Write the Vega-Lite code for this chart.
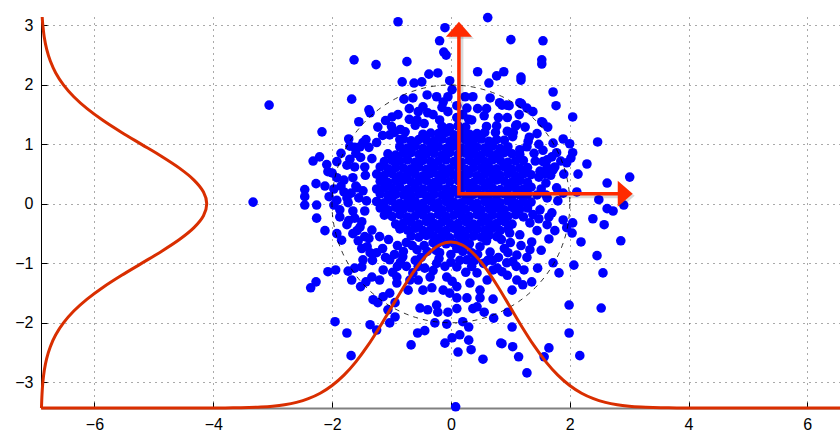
{
  "$schema": "https://vega.github.io/schema/vega-lite/v6.json",
  "autosize": {"type": "none"},
  "padding": {"left": 41, "top": 17, "right": 0, "bottom": 24},
  "width": 799,
  "height": 391,
  "background": "white",
  "config": {
    "view": {"stroke": null},
    "axis": {
      "grid": true,
      "gridColor": "#555555",
      "gridDash": [1, 5],
      "gridWidth": 1,
      "gridOpacity": 1,
      "tickColor": "#000000",
      "tickSize": -6,
      "labelFont": "Liberation Sans",
      "labelFontSize": 16,
      "labelColor": "#000000",
      "labelPadding": 14,
      "title": null
    }
  },
  "datasets": {
    "samples": [
      {"x":-0.21,"y":-0.65},{"x":-0.08,"y":-0.67},{"x":0.05,"y":-0.66},{"x":0.18,"y":-0.64},{"x":0.31,"y":-0.67},
      {"x":-0.67,"y":-0.54},{"x":-0.54,"y":-0.56},{"x":-0.41,"y":-0.53},{"x":-0.28,"y":-0.55},{"x":-0.15,"y":-0.54},{"x":-0.02,"y":-0.57},{"x":0.12,"y":-0.53},{"x":0.25,"y":-0.55},{"x":0.38,"y":-0.54},{"x":0.51,"y":-0.56},{"x":0.64,"y":-0.53},{"x":0.77,"y":-0.55},
      {"x":-0.86,"y":-0.42},{"x":-0.73,"y":-0.44},{"x":-0.6,"y":-0.41},{"x":-0.47,"y":-0.45},{"x":-0.34,"y":-0.43},{"x":-0.21,"y":-0.42},{"x":-0.08,"y":-0.45},{"x":0.05,"y":-0.41},{"x":0.18,"y":-0.44},{"x":0.31,"y":-0.42},{"x":0.44,"y":-0.43},{"x":0.57,"y":-0.44},{"x":0.7,"y":-0.41},{"x":0.83,"y":-0.45},{"x":0.96,"y":-0.42},
      {"x":-0.93,"y":-0.34},{"x":-0.8,"y":-0.32},{"x":-0.67,"y":-0.31},{"x":-0.54,"y":-0.34},{"x":-0.41,"y":-0.3},{"x":-0.28,"y":-0.33},{"x":-0.15,"y":-0.31},{"x":-0.02,"y":-0.32},{"x":0.12,"y":-0.33},{"x":0.25,"y":-0.3},{"x":0.38,"y":-0.34},{"x":0.51,"y":-0.31},{"x":0.64,"y":-0.32},{"x":0.77,"y":-0.33},{"x":0.9,"y":-0.3},{"x":1.03,"y":-0.34},
      {"x":-1.12,"y":-0.19},{"x":-0.99,"y":-0.21},{"x":-0.86,"y":-0.18},{"x":-0.73,"y":-0.22},{"x":-0.6,"y":-0.2},{"x":-0.47,"y":-0.19},{"x":-0.34,"y":-0.22},{"x":-0.21,"y":-0.18},{"x":-0.08,"y":-0.21},{"x":0.05,"y":-0.19},{"x":0.18,"y":-0.2},{"x":0.31,"y":-0.21},{"x":0.44,"y":-0.18},{"x":0.57,"y":-0.22},{"x":0.7,"y":-0.19},{"x":0.83,"y":-0.2},{"x":0.96,"y":-0.21},{"x":1.09,"y":-0.18},{"x":1.22,"y":-0.22},
      {"x":-1.19,"y":-0.07},{"x":-1.06,"y":-0.1},{"x":-0.93,"y":-0.06},{"x":-0.8,"y":-0.09},{"x":-0.67,"y":-0.07},{"x":-0.54,"y":-0.08},{"x":-0.41,"y":-0.09},{"x":-0.28,"y":-0.06},{"x":-0.15,"y":-0.1},{"x":-0.02,"y":-0.07},{"x":0.12,"y":-0.08},{"x":0.25,"y":-0.09},{"x":0.38,"y":-0.06},{"x":0.51,"y":-0.1},{"x":0.64,"y":-0.08},{"x":0.77,"y":-0.07},{"x":0.9,"y":-0.1},{"x":1.03,"y":-0.06},{"x":1.16,"y":-0.09},{"x":1.29,"y":-0.07},
      {"x":-1.25,"y":0.04},{"x":-1.12,"y":0.02},{"x":-0.99,"y":0.05},{"x":-0.86,"y":0.01},{"x":-0.73,"y":0.03},{"x":-0.6,"y":0.04},{"x":-0.47,"y":0.01},{"x":-0.34,"y":0.05},{"x":-0.21,"y":0.02},{"x":-0.08,"y":0.04},{"x":0.05,"y":0.03},{"x":0.18,"y":0.02},{"x":0.31,"y":0.05},{"x":0.44,"y":0.01},{"x":0.57,"y":0.04},{"x":0.7,"y":0.03},{"x":0.83,"y":0.02},{"x":0.96,"y":0.05},{"x":1.09,"y":0.01},{"x":1.22,"y":0.04},{"x":1.35,"y":0.03},
      {"x":-1.19,"y":0.17},{"x":-1.06,"y":0.14},{"x":-0.93,"y":0.16},{"x":-0.8,"y":0.15},{"x":-0.67,"y":0.14},{"x":-0.54,"y":0.17},{"x":-0.41,"y":0.13},{"x":-0.28,"y":0.16},{"x":-0.15,"y":0.15},{"x":-0.02,"y":0.14},{"x":0.12,"y":0.17},{"x":0.25,"y":0.13},{"x":0.38,"y":0.16},{"x":0.51,"y":0.15},{"x":0.64,"y":0.16},{"x":0.77,"y":0.14},{"x":0.9,"y":0.17},{"x":1.03,"y":0.13},{"x":1.16,"y":0.15},{"x":1.29,"y":0.16},
      {"x":-1.25,"y":0.25},{"x":-1.12,"y":0.27},{"x":-0.99,"y":0.26},{"x":-0.86,"y":0.28},{"x":-0.73,"y":0.24},{"x":-0.6,"y":0.27},{"x":-0.47,"y":0.25},{"x":-0.34,"y":0.26},{"x":-0.21,"y":0.28},{"x":-0.08,"y":0.25},{"x":0.05,"y":0.24},{"x":0.18,"y":0.27},{"x":0.31,"y":0.26},{"x":0.44,"y":0.25},{"x":0.57,"y":0.28},{"x":0.7,"y":0.27},{"x":0.83,"y":0.24},{"x":0.96,"y":0.26},{"x":1.09,"y":0.27},{"x":1.22,"y":0.25},{"x":1.35,"y":0.28},
      {"x":-1.19,"y":0.38},{"x":-1.06,"y":0.36},{"x":-0.93,"y":0.39},{"x":-0.8,"y":0.4},{"x":-0.67,"y":0.37},{"x":-0.54,"y":0.38},{"x":-0.41,"y":0.39},{"x":-0.28,"y":0.36},{"x":-0.15,"y":0.4},{"x":-0.02,"y":0.37},{"x":0.12,"y":0.39},{"x":0.25,"y":0.38},{"x":0.38,"y":0.36},{"x":0.51,"y":0.39},{"x":0.64,"y":0.37},{"x":0.77,"y":0.4},{"x":0.9,"y":0.38},{"x":1.03,"y":0.37},{"x":1.16,"y":0.39},{"x":1.29,"y":0.36},
      {"x":-1.25,"y":0.5},{"x":-1.12,"y":0.48},{"x":-0.99,"y":0.51},{"x":-0.86,"y":0.47},{"x":-0.73,"y":0.49},{"x":-0.6,"y":0.5},{"x":-0.47,"y":0.47},{"x":-0.34,"y":0.51},{"x":-0.21,"y":0.48},{"x":-0.08,"y":0.5},{"x":0.05,"y":0.49},{"x":0.18,"y":0.48},{"x":0.31,"y":0.51},{"x":0.44,"y":0.47},{"x":0.57,"y":0.5},{"x":0.7,"y":0.49},{"x":0.83,"y":0.48},{"x":0.96,"y":0.51},{"x":1.09,"y":0.47},{"x":1.22,"y":0.5},{"x":1.35,"y":0.49},
      {"x":-1.19,"y":0.62},{"x":-1.06,"y":0.59},{"x":-0.93,"y":0.61},{"x":-0.8,"y":0.6},{"x":-0.67,"y":0.59},{"x":-0.54,"y":0.62},{"x":-0.41,"y":0.58},{"x":-0.28,"y":0.61},{"x":-0.15,"y":0.6},{"x":-0.02,"y":0.59},{"x":0.12,"y":0.62},{"x":0.25,"y":0.58},{"x":0.38,"y":0.61},{"x":0.51,"y":0.6},{"x":0.64,"y":0.61},{"x":0.77,"y":0.59},{"x":0.9,"y":0.62},{"x":1.03,"y":0.58},{"x":1.16,"y":0.6},{"x":1.29,"y":0.61},
      {"x":-1.12,"y":0.71},{"x":-0.99,"y":0.73},{"x":-0.86,"y":0.72},{"x":-0.73,"y":0.74},{"x":-0.6,"y":0.7},{"x":-0.47,"y":0.73},{"x":-0.34,"y":0.71},{"x":-0.21,"y":0.72},{"x":-0.08,"y":0.74},{"x":0.05,"y":0.71},{"x":0.18,"y":0.7},{"x":0.31,"y":0.73},{"x":0.44,"y":0.72},{"x":0.57,"y":0.71},{"x":0.7,"y":0.74},{"x":0.83,"y":0.73},{"x":0.96,"y":0.7},{"x":1.09,"y":0.72},{"x":1.22,"y":0.73},
      {"x":-1.06,"y":0.84},{"x":-0.93,"y":0.82},{"x":-0.8,"y":0.85},{"x":-0.67,"y":0.86},{"x":-0.54,"y":0.83},{"x":-0.41,"y":0.84},{"x":-0.28,"y":0.85},{"x":-0.15,"y":0.82},{"x":-0.02,"y":0.86},{"x":0.12,"y":0.83},{"x":0.25,"y":0.85},{"x":0.38,"y":0.84},{"x":0.51,"y":0.82},{"x":0.64,"y":0.85},{"x":0.77,"y":0.83},{"x":0.9,"y":0.86},{"x":1.03,"y":0.84},{"x":1.16,"y":0.83},
      {"x":-0.86,"y":0.96},{"x":-0.73,"y":0.94},{"x":-0.6,"y":0.97},{"x":-0.47,"y":0.93},{"x":-0.34,"y":0.95},{"x":-0.21,"y":0.96},{"x":-0.08,"y":0.93},{"x":0.05,"y":0.97},{"x":0.18,"y":0.94},{"x":0.31,"y":0.96},{"x":0.44,"y":0.95},{"x":0.57,"y":0.94},{"x":0.7,"y":0.97},{"x":0.83,"y":0.93},{"x":0.96,"y":0.96},
      {"x":-0.8,"y":1.09},{"x":-0.67,"y":1.06},{"x":-0.54,"y":1.08},{"x":-0.41,"y":1.07},{"x":-0.28,"y":1.06},{"x":-0.15,"y":1.09},{"x":-0.02,"y":1.05},{"x":0.12,"y":1.08},{"x":0.25,"y":1.07},{"x":0.38,"y":1.06},{"x":0.51,"y":1.09},{"x":0.64,"y":1.05},{"x":0.77,"y":1.08},{"x":0.9,"y":1.07},
      {"x":-0.47,"y":1.17},{"x":-0.34,"y":1.19},{"x":-0.21,"y":1.18},{"x":-0.08,"y":1.2},{"x":0.05,"y":1.16},{"x":0.18,"y":1.19},{"x":0.31,"y":1.17},{"x":0.44,"y":1.18},{"x":0.57,"y":1.2},
      {"x":-0.15,"y":1.3},{"x":-0.02,"y":1.28},{"x":0.12,"y":1.31},{"x":0.25,"y":1.29},
      {"x":-0.89,"y":3.06},{"x":-1.63,"y":2.42},{"x":-1.26,"y":2.34},{"x":-0.74,"y":2.39},{"x":-0.1,"y":2.96},{"x":-0.19,"y":2.74},{"x":-0.12,"y":2.55},{"x":-0.08,"y":2.5},{"x":0.62,"y":3.13},{"x":1.01,"y":2.76},{"x":1.55,"y":2.74},{"x":1.53,"y":2.42},{"x":1.53,"y":2.35},{"x":0.45,"y":2.22},{"x":0.77,"y":2.15},{"x":0.89,"y":2.22},{"x":1.18,"y":2.13},{"x":1.18,"y":2.08},{"x":-0.37,"y":2.18},{"x":-0.22,"y":2.2},{"x":-0.82,"y":2.05},{"x":-0.62,"y":2.03},{"x":-0.49,"y":2.05},{"x":-0.02,"y":2.07},{"x":0.64,"y":2.03},{"x":1.72,"y":1.88},{"x":1.77,"y":1.65},
      {"x":-1.67,"y":1.76},{"x":-1.38,"y":1.58},{"x":-1.36,"y":1.53},{"x":-1.55,"y":1.38},{"x":-2.17,"y":1.21},{"x":-1.72,"y":1.09},{"x":-0.79,"y":1.76},{"x":-0.64,"y":1.78},{"x":-0.47,"y":1.63},{"x":-0.4,"y":1.83},{"x":-0.24,"y":1.8},{"x":-0.13,"y":1.71},{"x":-0.05,"y":1.8},{"x":0.02,"y":1.92},{"x":0.24,"y":1.8},{"x":0.37,"y":1.8},{"x":0.27,"y":1.61},{"x":0.66,"y":1.78},{"x":0.86,"y":1.66},{"x":0.98,"y":1.65},{"x":1.16,"y":1.7},{"x":1.28,"y":1.61},
      {"x":0.35,"y":1.41},{"x":0.56,"y":1.48},{"x":0.77,"y":1.31},{"x":1.11,"y":1.33},{"x":1.25,"y":1.29},{"x":1.55,"y":1.36},{"x":1.63,"y":1.29},{"x":-0.99,"y":1.46},{"x":-0.89,"y":1.5},{"x":-0.57,"y":1.41},{"x":-0.39,"y":1.53},{"x":-0.19,"y":1.41},{"x":-1.23,"y":1.29},{"x":-1.03,"y":1.16},{"x":-0.77,"y":1.21},{"x":-0.86,"y":1.08},{"x":-1.48,"y":1.03},{"x":-1.43,"y":1.08},{"x":-1.53,"y":0.96},{"x":-1.25,"y":1.03},{"x":1.28,"y":0.96},{"x":1.16,"y":0.91},{"x":1.04,"y":1.13},{"x":1.62,"y":0.74},{"x":1.78,"y":0.86},
      {"x":-3.06,"y":1.66},{"x":-3.33,"y":0.03},
      {"x":0.82,"y":1.7},{"x":0.94,"y":1.66},{"x":1.19,"y":1.68},{"x":1.38,"y":1.55},{"x":1.09,"y":1.31},{"x":1.53,"y":1.38},{"x":1.89,"y":1.09},{"x":2.0,"y":1.01},{"x":2.47,"y":1.04},{"x":2.05,"y":0.86},{"x":2.02,"y":0.77},{"x":1.95,"y":0.69},{"x":2.29,"y":0.67},{"x":2.14,"y":0.5},{"x":2.63,"y":0.35},{"x":3.01,"y":0.45},{"x":2.12,"y":0.2},{"x":2.49,"y":0.07},{"x":2.63,"y":-0.08},{"x":2.73,"y":-0.12},{"x":2.91,"y":-0.02},{"x":1.7,"y":0.79},{"x":1.55,"y":0.71},{"x":1.62,"y":0.61},{"x":1.72,"y":0.57},{"x":1.62,"y":0.1},{"x":1.78,"y":0.27},{"x":1.89,"y":0.18},{"x":2.05,"y":1.46},
      {"x":0.1,"y":1.45},{"x":-0.05,"y":1.55},{"x":0.45,"y":1.6},{"x":-0.7,"y":1.6},{"x":-1.1,"y":1.4},{"x":0.95,"y":1.45},{"x":0.6,"y":1.3},{"x":-0.45,"y":1.35},
      {"x":-0.85,"y":1.25},{"x":-0.6,"y":1.32},{"x":0.75,"y":1.2},{"x":0.95,"y":1.22},{"x":-1.0,"y":1.3},{"x":0.2,"y":1.5},{"x":-0.3,"y":1.5},{"x":1.15,"y":1.5},{"x":-1.15,"y":1.15},{"x":1.3,"y":1.05},
      {"x":-0.7,"y":1.42},{"x":0.3,"y":1.42},{"x":0.8,"y":1.45},{"x":-0.15,"y":1.62},{"x":0.6,"y":1.6},{"x":-0.95,"y":1.2},{"x":1.05,"y":1.2},{"x":0.1,"y":1.65},{"x":-0.55,"y":1.55},
      {"x":-2.21,"y":0.79},{"x":-2.32,"y":0.72},{"x":-2.09,"y":0.66},{"x":-2.07,"y":0.54},{"x":-1.92,"y":0.71},{"x":-2.0,"y":0.52},{"x":-2.27,"y":0.34},{"x":-2.12,"y":0.3},{"x":-1.92,"y":0.44},{"x":-1.8,"y":0.4},{"x":-1.65,"y":0.44},{"x":-1.58,"y":0.27},{"x":-1.62,"y":0.62},{"x":-1.45,"y":0.62},{"x":-1.33,"y":0.76},{"x":-2.46,"y":0.24},{"x":-2.46,"y":0.12},{"x":-2.46,"y":-0.02},{"x":-2.26,"y":-0.02},{"x":-1.97,"y":-0.02},{"x":-1.73,"y":0.02},{"x":-1.87,"y":-0.1},{"x":-1.7,"y":0.97},
      {"x":-1.55,"y":0.1},{"x":-1.65,"y":-0.12},{"x":-1.5,"y":-0.3},{"x":-1.8,"y":0.2},{"x":-1.6,"y":0.85},{"x":-1.75,"y":0.65},
      {"x":-1.42,"y":0.05},{"x":-1.48,"y":0.22},{"x":-1.44,"y":0.48},{"x":-1.52,"y":0.78},{"x":-1.38,"y":0.95},{"x":-1.68,"y":0.18},{"x":-1.72,"y":-0.28},{"x":-1.56,"y":-0.62},{"x":-1.38,"y":-0.58},{"x":-1.32,"y":-0.95},{"x":-1.62,"y":0.95},{"x":-1.85,"y":0.85},{"x":-1.45,"y":-0.12},{"x":-1.97,"y":0.25},{"x":-1.92,"y":0.06},{"x":-2.05,"y":0.12},
      {"x":-1.6,"y":0.3},{"x":-1.75,"y":0.1},{"x":-1.58,"y":-0.45},{"x":-1.7,"y":0.75},{"x":-1.85,"y":0.3},{"x":-1.5,"y":-0.75},
      {"x":-2.26,"y":-0.24},{"x":-2.12,"y":-0.45},{"x":-1.92,"y":-0.5},{"x":-1.84,"y":-0.61},{"x":-1.65,"y":-0.5},{"x":-2.07,"y":-1.14},{"x":-1.94,"y":-1.11},{"x":-2.27,"y":-1.31},{"x":-2.36,"y":-1.41},{"x":-1.73,"y":-1.13},{"x":-1.62,"y":-1.08},{"x":-1.5,"y":-1.06},{"x":-1.67,"y":-1.28},{"x":-1.52,"y":-1.39},{"x":-1.43,"y":-1.31},{"x":-1.33,"y":-1.23},{"x":-1.95,"y":-1.98},{"x":-1.75,"y":-2.17},{"x":-1.68,"y":-2.55},{"x":-1.36,"y":-2.03},{"x":-1.87,"y":-0.22},{"x":-1.75,"y":-0.35},{"x":-1.62,"y":-0.24},{"x":-1.53,"y":-0.39},{"x":-1.45,"y":-0.55},{"x":-1.41,"y":-0.72},{"x":-1.36,"y":-0.82},{"x":-1.48,"y":-0.94},{"x":-1.33,"y":-0.44},
      {"x":-1.2,"y":-0.55},{"x":-1.05,"y":-0.6},{"x":-0.9,"y":-0.7},{"x":-1.15,"y":-0.75},{"x":-0.75,"y":-0.65},
      {"x":-1.23,"y":-1.66},{"x":-1.25,"y":-2.12},{"x":-1.03,"y":-2.0},{"x":-0.94,"y":-1.9},{"x":-0.56,"y":-2.17},{"x":-0.44,"y":-2.13},{"x":-0.67,"y":-2.37},{"x":-0.52,"y":-1.75},{"x":-0.39,"y":-1.78},{"x":-0.24,"y":-1.7},{"x":-0.22,"y":-1.82},{"x":-0.05,"y":-1.82},{"x":0.1,"y":-1.76},{"x":-0.27,"y":-2.0},{"x":-0.07,"y":-2.02},{"x":0.2,"y":-1.98},{"x":0.3,"y":-2.07},{"x":0.15,"y":-2.2},{"x":0.12,"y":-2.49},{"x":0.02,"y":-2.25},{"x":-0.1,"y":-2.34},{"x":0.3,"y":-2.29},{"x":0.34,"y":-2.45},{"x":0.54,"y":-2.61},{"x":0.84,"y":-2.34},{"x":0.72,"y":-1.92},{"x":0.56,"y":-1.82},{"x":0.37,"y":-1.76},{"x":0.71,"y":-1.6},{"x":0.49,"y":-1.58},{"x":0.44,"y":-1.73},{"x":0.27,"y":-1.58},{"x":0.1,"y":-1.58},{"x":-0.02,"y":-1.5},{"x":-0.13,"y":-1.45},{"x":-0.32,"y":-1.41},{"x":-0.47,"y":-1.45},{"x":-0.69,"y":-1.28},{"x":-0.91,"y":-1.33},{"x":-1.03,"y":-1.5},{"x":-1.06,"y":-1.78},{"x":-0.94,"y":-1.66},{"x":-1.14,"y":-1.56},{"x":-1.31,"y":-1.61},{"x":0.08,"y":-3.41},
      {"x":-1.25,"y":-0.82},{"x":-1.03,"y":-0.94},{"x":-1.14,"y":-1.11},{"x":-0.91,"y":-1.23},{"x":-0.64,"y":-1.16},{"x":-0.44,"y":-1.08},{"x":-0.24,"y":-1.0},{"x":-0.07,"y":-1.23},{"x":0.1,"y":-1.06},{"x":0.27,"y":-0.94},{"x":0.44,"y":-1.16},{"x":0.61,"y":-1.28},{"x":0.71,"y":-1.11},{"x":0.66,"y":-0.81},{"x":0.49,"y":-0.72},{"x":0.2,"y":-0.66},{"x":-0.19,"y":-0.82},{"x":-0.57,"y":-0.77},{"x":-0.81,"y":-0.89},{"x":-1.2,"y":-1.28},{"x":-0.72,"y":-1.45},{"x":-0.35,"y":-1.23},{"x":0.1,"y":-1.39},{"x":0.32,"y":-1.33},{"x":0.49,"y":-1.45},
      {"x":-0.4,"y":-0.8},{"x":0.0,"y":-0.85},{"x":0.35,"y":-0.82},{"x":0.8,"y":-0.9},{"x":-0.6,"y":-0.95},{"x":0.15,"y":-0.95},{"x":-0.1,"y":-1.05},{"x":0.55,"y":-1.0},{"x":-0.9,"y":-1.05},{"x":0.9,"y":-0.75},{"x":1.0,"y":-0.65},{"x":-0.3,"y":-0.65},{"x":0.6,"y":-0.62},
      {"x":-0.95,"y":-0.85},{"x":-0.5,"y":-0.9},{"x":-0.2,"y":-0.92},{"x":0.4,"y":-0.95},{"x":0.7,"y":-0.95},{"x":0.85,"y":-0.6},{"x":-0.65,"y":-0.7},{"x":1.1,"y":-1.05},{"x":-0.75,"y":-1.05},{"x":0.25,"y":-1.15},{"x":-0.55,"y":-1.28},{"x":0.02,"y":-1.3},
      {"x":-1.1,"y":-0.9},{"x":-0.85,"y":-0.98},{"x":-0.3,"y":-1.12},{"x":0.0,"y":-0.98},{"x":0.2,"y":-0.8},{"x":0.45,"y":-0.85},{"x":0.62,"y":-0.95},{"x":0.78,"y":-1.08},{"x":-0.55,"y":-1.05},{"x":-0.25,"y":-0.78},{"x":0.1,"y":-0.75},{"x":-0.8,"y":-0.8},{"x":0.35,"y":-1.05},{"x":-0.45,"y":-0.7},{"x":0.95,"y":-1.2},{"x":-0.98,"y":-1.15},
      {"x":2.39,"y":-0.25},{"x":2.58,"y":-0.35},{"x":2.86,"y":-0.62},{"x":2.19,"y":-0.64},{"x":2.05,"y":-0.32},{"x":2.04,"y":-0.49},{"x":2.46,"y":-0.87},{"x":2.56,"y":-1.16},{"x":2.07,"y":-1.03},{"x":1.82,"y":-1.16},{"x":1.72,"y":-0.99},{"x":1.65,"y":-0.59},{"x":1.99,"y":-1.7},{"x":2.53,"y":-1.75},{"x":1.99,"y":-2.17},{"x":2.17,"y":-2.55},{"x":1.65,"y":-2.42},{"x":1.57,"y":-2.57},{"x":1.28,"y":-2.84},{"x":1.14,"y":-2.57},{"x":1.04,"y":-2.4},{"x":0.86,"y":-2.35},{"x":1.03,"y":-2.07},{"x":0.96,"y":-1.82},{"x":1.46,"y":-1.08},{"x":1.36,"y":-1.31},{"x":1.21,"y":-1.36},{"x":1.11,"y":-1.28},{"x":1.23,"y":-1.11},{"x":1.03,"y":-1.45},{"x":0.94,"y":-0.99},{"x":1.04,"y":-0.97},{"x":0.86,"y":-1.14},{"x":0.96,"y":-0.82},{"x":1.11,"y":-0.86},{"x":1.33,"y":-0.77},{"x":1.36,"y":-0.64},{"x":1.16,"y":-0.52},{"x":0.99,"y":-0.49},{"x":1.33,"y":-0.32},{"x":1.89,"y":-0.27},{"x":1.95,"y":-0.4},{"x":1.65,"y":-0.22},
      {"x":1.5,"y":-0.1},{"x":1.45,"y":0.15},{"x":1.6,"y":0.35},{"x":1.5,"y":0.55},{"x":1.55,"y":0.9},{"x":1.4,"y":0.85},{"x":1.45,"y":-0.45},{"x":1.75,"y":-0.45},{"x":1.8,"y":0.05},{"x":1.9,"y":0.5},
      {"x":1.42,"y":0.72},{"x":1.48,"y":0.45},{"x":1.52,"y":0.25},{"x":1.48,"y":-0.25},{"x":1.38,"y":-0.18},{"x":1.62,"y":-0.35},{"x":1.68,"y":0.48},{"x":1.45,"y":1.18},{"x":1.32,"y":1.12},{"x":1.72,"y":1.02},{"x":1.85,"y":0.72},{"x":1.28,"y":-0.9},{"x":1.52,"y":-0.78},{"x":1.18,"y":-0.7},
      {"x":1.6,"y":0.15},{"x":1.7,"y":-0.15},{"x":1.58,"y":0.5},{"x":1.48,"y":1.0},{"x":1.75,"y":0.62}
    ],
    "densityX": [
      {"x":-6.9,"y":-3.43},{"x":-4.0,"y":-3.429},{"x":-3.8,"y":-3.428},{"x":-3.6,"y":-3.426},{"x":-3.4,"y":-3.421},{"x":-3.2,"y":-3.413},{"x":-3.0,"y":-3.399},{"x":-2.8,"y":-3.375},{"x":-2.6,"y":-3.335},{"x":-2.4,"y":-3.273},{"x":-2.2,"y":-3.182},{"x":-2.0,"y":-3.052},{"x":-1.8,"y":-2.878},{"x":-1.6,"y":-2.654},{"x":-1.4,"y":-2.383},{"x":-1.2,"y":-2.072},{"x":-1.0,"y":-1.738},{"x":-0.8,"y":-1.404},{"x":-0.6,"y":-1.1},{"x":-0.4,"y":-0.855},{"x":-0.2,"y":-0.695},{"x":0.0,"y":-0.64},
      {"x":0.2,"y":-0.695},{"x":0.4,"y":-0.855},{"x":0.6,"y":-1.1},{"x":0.8,"y":-1.404},{"x":1.0,"y":-1.738},{"x":1.2,"y":-2.072},{"x":1.4,"y":-2.383},{"x":1.6,"y":-2.654},{"x":1.8,"y":-2.878},{"x":2.0,"y":-3.052},{"x":2.2,"y":-3.182},{"x":2.4,"y":-3.273},{"x":2.6,"y":-3.335},{"x":2.8,"y":-3.375},{"x":3.0,"y":-3.399},{"x":3.2,"y":-3.413},{"x":3.4,"y":-3.421},{"x":3.6,"y":-3.426},{"x":3.8,"y":-3.428},{"x":4.0,"y":-3.429},{"x":6.55,"y":-3.43}
    ],
    "densityY": [
      {"x":-6.892,"y":-3.43},{"x":-6.883,"y":-3.2},{"x":-6.869,"y":-3.0},{"x":-6.845,"y":-2.8},{"x":-6.805,"y":-2.6},{"x":-6.743,"y":-2.4},{"x":-6.652,"y":-2.2},{"x":-6.522,"y":-2.0},{"x":-6.348,"y":-1.8},{"x":-6.124,"y":-1.6},{"x":-5.853,"y":-1.4},{"x":-5.542,"y":-1.2},{"x":-5.208,"y":-1.0},{"x":-4.874,"y":-0.8},{"x":-4.57,"y":-0.6},{"x":-4.325,"y":-0.4},{"x":-4.165,"y":-0.2},{"x":-4.11,"y":0.0},
      {"x":-4.165,"y":0.2},{"x":-4.325,"y":0.4},{"x":-4.57,"y":0.6},{"x":-4.874,"y":0.8},{"x":-5.208,"y":1.0},{"x":-5.542,"y":1.2},{"x":-5.853,"y":1.4},{"x":-6.124,"y":1.6},{"x":-6.348,"y":1.8},{"x":-6.522,"y":2.0},{"x":-6.652,"y":2.2},{"x":-6.743,"y":2.4},{"x":-6.805,"y":2.6},{"x":-6.845,"y":2.8},{"x":-6.869,"y":3.0},{"x":-6.88,"y":3.14}
    ],
    "axesArrows": [
      {"x":0.135,"y":2.85,"k":0},{"x":0.135,"y":0.168,"k":1},{"x":2.82,"y":0.168,"k":2}
    ],
    "arrowTips": [
      {"x":0.135,"y":3.06,"dir":"up"},{"x":3.06,"y":0.168,"dir":"right"}
    ],
    "sigmaRing": [{"x":0,"y":0}]
  },
  "encoding": {
    "x": {
      "field": "x",
      "type": "quantitative",
      "scale": {"domain": [-6.9, 6.55], "nice": false, "zero": false},
      "axis": {"values": [-6, -4, -2, 0, 2, 4, 6], "domainColor": "#808080", "domainWidth": 2}
    },
    "y": {
      "field": "y",
      "type": "quantitative",
      "scale": {"domain": [-3.43, 3.14], "nice": false, "zero": false},
      "axis": {"values": [-3, -2, -1, 0, 1, 2, 3], "domainColor": "#000000", "domainWidth": 1}
    }
  },
  "layer": [
    {
      "data": {"name": "samples"},
      "mark": {"type": "circle", "size": 92, "color": "#0000ff", "opacity": 1}
    },
    {
      "data": {"name": "sigmaRing"},
      "mark": {"type": "point", "shape": "circle", "size": 56549, "filled": false, "stroke": "#000000", "strokeWidth": 0.8, "strokeDash": [5, 5], "opacity": 1}
    },
    {
      "data": {"name": "densityX"},
      "mark": {"type": "line", "color": "#d92e00", "strokeWidth": 3, "interpolate": "monotone"}
    },
    {
      "data": {"name": "densityY"},
      "mark": {"type": "line", "color": "#d92e00", "strokeWidth": 3, "interpolate": "cardinal"},
      "encoding": {"order": {"field": "y", "type": "quantitative"}}
    },
    {
      "data": {"name": "axesArrows"},
      "mark": {"type": "line", "color": "#000000", "opacity": 0.15, "strokeWidth": 5, "xOffset": 2, "yOffset": 2, "strokeJoin": "miter"},
      "encoding": {"order": {"field": "k", "type": "quantitative"}}
    },
    {
      "data": {"name": "arrowTips"},
      "mark": {"type": "point", "filled": true, "size": 676, "color": "#000000", "opacity": 0.15, "strokeWidth": 0, "xOffset": 2, "yOffset": 2},
      "encoding": {
        "shape": {"field": "dir", "type": "nominal", "legend": null, "scale": {"domain": ["up", "right"], "range": ["M0,0L-1,1.15L1,1.15Z", "M0,0L-1.15,-1L-1.15,1Z"]}}
      }
    },
    {
      "data": {"name": "axesArrows"},
      "mark": {"type": "line", "color": "#ff2a00", "strokeWidth": 3.5, "strokeJoin": "miter"},
      "encoding": {"order": {"field": "k", "type": "quantitative"}}
    },
    {
      "data": {"name": "arrowTips"},
      "mark": {"type": "point", "filled": true, "size": 676, "color": "#ff2a00", "opacity": 1, "strokeWidth": 0},
      "encoding": {
        "shape": {"field": "dir", "type": "nominal", "legend": null, "scale": {"domain": ["up", "right"], "range": ["M0,0L-1,1.15L1,1.15Z", "M0,0L-1.15,-1L-1.15,1Z"]}}
      }
    }
  ]
}
